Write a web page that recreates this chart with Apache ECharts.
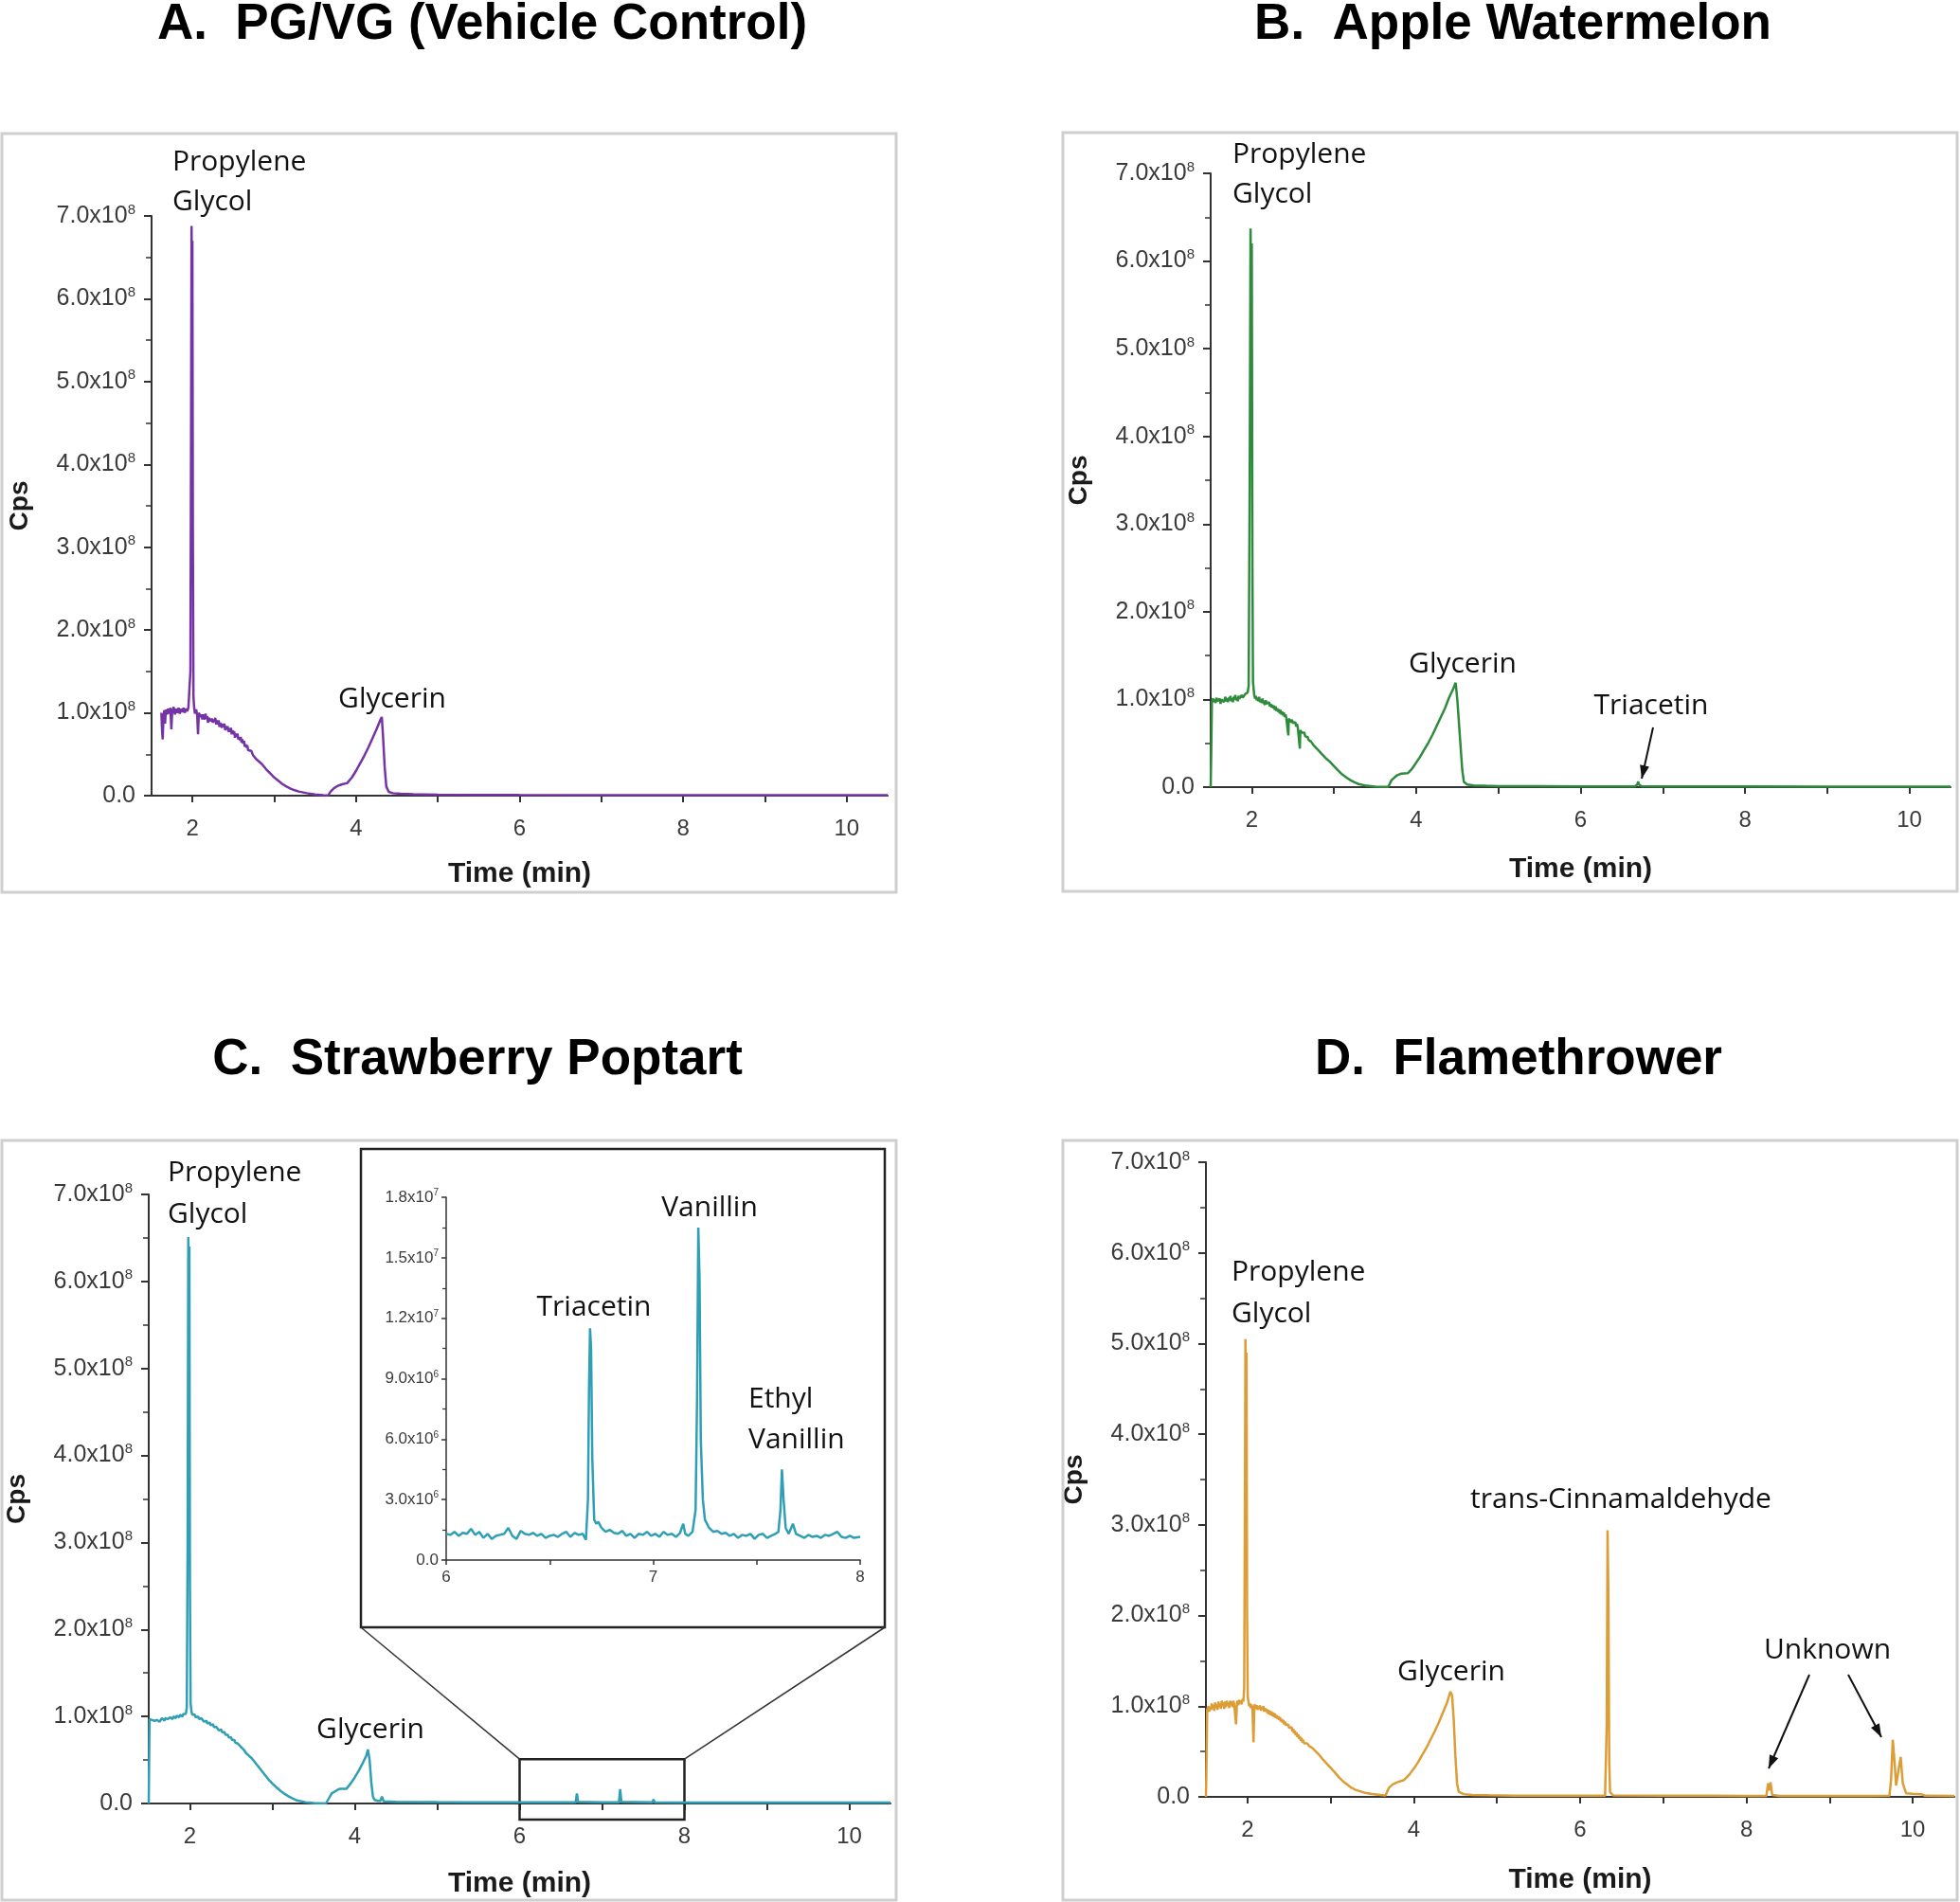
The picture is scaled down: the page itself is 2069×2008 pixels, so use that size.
<!DOCTYPE html>
<html><head><meta charset="utf-8">
<script src="https://cdn.jsdelivr.net/npm/echarts@6/dist/echarts.min.js"></script>
<style>html,body{margin:0;padding:0;background:#fff}#c{width:2069px;height:2008px}</style>
</head><body><div id="c"></div>
<script>
// ---- data: [time (min), Cps / 1e8] (inset: Cps / 1e6) ----
const panelTitles = ['A.  PG/VG (Vehicle Control)', 'B.  Apple Watermelon', 'C.  Strawberry Poptart', 'D.  Flamethrower'];
const xTickValues = [2, 3, 4, 5, 6, 7, 8, 9, 10];
const xLabelValues = [2, 4, 6, 8, 10];

const pgvg = [[1.62,1.00],[1.628,0.80],[1.636,0.68],[1.645,0.93],[1.655,1.03],[1.665,0.87],[1.675,1.04],[1.69,0.98],[1.70,1.05],[1.715,0.99],[1.73,1.06],[1.742,0.80],[1.752,1.02],[1.77,1.07],[1.785,0.98],[1.80,1.05],[1.815,1.00],[1.83,1.06],[1.845,0.99],[1.86,1.05],[1.875,1.01],[1.89,1.06],[1.905,1.00],[1.92,1.05],[1.935,1.02],[1.95,1.06],[1.965,1.05],[1.975,1.5],[1.983,4.3],[1.989,6.88],[1.994,6.1],[1.999,6.7],[2.005,3.2],[2.012,1.2],[2.02,1.07],[2.03,0.99],[2.045,1.04],[2.058,0.97],[2.068,0.74],[2.078,1.00],
[2.09,1.00],[2.10,0.95],[2.11,0.98],[2.12,0.92],[2.13,0.98],[2.14,0.95],[2.15,0.92],[2.16,0.99],[2.17,0.93],[2.18,0.96],[2.19,0.88],[2.20,0.94],[2.21,0.96],[2.22,0.90],[2.23,0.92],[2.24,0.93],[2.25,0.88],[2.26,0.92],[2.27,0.89],[2.28,0.94],[2.29,0.86],[2.30,0.91],[2.31,0.86],[2.32,0.91],[2.33,0.83],[2.34,0.88],[2.35,0.88],[2.36,0.82],[2.37,0.87],[2.38,0.83],[2.39,0.87],[2.40,0.79],[2.41,0.84],[2.42,0.80],[2.43,0.84],[2.44,0.77],[2.45,0.81],[2.46,0.77],[2.47,0.82],[2.48,0.74],[2.49,0.79],[2.50,0.74],[2.51,0.78],[2.52,0.70],[2.53,0.75],[2.54,0.71],[2.55,0.75],[2.56,0.68],[2.57,0.71],[2.58,0.67],[2.59,0.71],[2.60,0.64],[2.61,0.68],[2.62,0.63],[2.63,0.66],[2.64,0.59],[2.65,0.62],[2.66,0.58],[2.67,0.61],[2.68,0.55],[2.69,0.57],[2.70,0.54],[2.72,0.54],[2.74,0.49],[2.76,0.49],[2.78,0.44],[2.80,0.43],
[2.85,0.38],[2.90,0.32],[2.95,0.27],[3.00,0.22],[3.05,0.18],[3.10,0.14],[3.15,0.11],[3.20,0.085],[3.25,0.065],[3.30,0.05],[3.40,0.03],[3.50,0.015],[3.60,0.006],[3.66,0.004],[3.69,0.05],[3.73,0.09],[3.78,0.12],[3.84,0.14],[3.89,0.15],[3.95,0.22],[4.00,0.30],[4.05,0.39],[4.10,0.48],[4.15,0.58],[4.20,0.69],[4.25,0.80],[4.30,0.92],[4.315,0.95],[4.33,0.72],[4.35,0.35],[4.37,0.11],[4.40,0.045],[4.45,0.03],[4.55,0.022],[4.70,0.016],[5.0,0.012],[5.5,0.01],[6.0,0.008],[7.0,0.007],[8.0,0.006],[9.0,0.006],[10.0,0.005],[10.5,0.005]];

const appleWatermelon = [[1.50,0.0],[1.506,0.35],[1.515,0.98],
[1.52,0.98],[1.53,1.01],[1.54,0.97],[1.55,1.00],[1.56,0.96],[1.57,1.02],[1.58,0.98],[1.59,1.00],[1.60,0.97],[1.61,1.01],[1.62,0.95],[1.63,1.00],[1.64,0.98],[1.65,1.02],[1.66,0.97],[1.67,0.99],[1.68,1.03],[1.69,0.98],[1.70,1.01],[1.71,0.97],[1.72,1.02],[1.73,0.99],[1.74,1.04],[1.75,0.98],[1.76,1.01],[1.77,0.97],[1.78,1.03],[1.79,1.00],[1.80,1.05],[1.81,0.99],[1.82,1.02],[1.83,0.98],[1.84,1.04],[1.85,1.01],[1.86,1.03],[1.87,1.00],[1.88,1.05],[1.89,1.02],[1.90,1.04],[1.91,1.01],[1.92,1.06],[1.93,1.04],[1.94,1.07],[1.95,1.08],[1.962,1.15],
[1.975,3.5],[1.985,6.37],[1.992,5.8],[2.0,6.2],[2.008,2.5],[2.015,1.2],
[2.03,1.05],[2.04,1.01],[2.05,1.04],[2.06,0.99],[2.07,1.02],[2.08,0.98],[2.09,1.03],[2.10,0.97],[2.11,1.00],[2.12,0.96],[2.13,1.01],[2.14,0.97],[2.15,0.99],[2.16,0.94],[2.17,0.99],[2.18,0.95],[2.19,0.97],[2.20,0.93],[2.21,0.97],[2.22,0.92],[2.23,0.95],[2.24,0.91],[2.25,0.94],[2.26,0.90],[2.27,0.93],[2.28,0.88],[2.29,0.92],[2.30,0.87],[2.31,0.90],[2.32,0.86],[2.33,0.89],[2.34,0.84],[2.35,0.88],[2.36,0.83],[2.37,0.86],[2.38,0.82],[2.39,0.85],[2.40,0.80],[2.41,0.83],[2.42,0.79],[2.43,0.81],[2.44,0.77],[2.445,0.59],[2.45,0.78],[2.46,0.76],[2.47,0.79],[2.48,0.74],[2.49,0.77],[2.50,0.73],[2.51,0.75],[2.52,0.71],[2.53,0.74],[2.54,0.69],[2.55,0.72],[2.56,0.68],[2.57,0.70],[2.58,0.66],[2.585,0.44],[2.59,0.65],[2.60,0.66],[2.61,0.62],[2.62,0.64],[2.63,0.60],[2.64,0.62],[2.65,0.58],[2.66,0.59],[2.67,0.56],[2.68,0.57],[2.69,0.54],[2.70,0.54],[2.72,0.52],[2.75,0.48],
[2.80,0.43],[2.85,0.38],[2.90,0.33],[2.95,0.29],[3.00,0.24],[3.05,0.19],[3.10,0.145],[3.15,0.11],[3.20,0.08],[3.25,0.055],[3.30,0.035],[3.40,0.015],[3.50,0.005],[3.66,0.002],[3.70,0.08],[3.76,0.13],[3.82,0.155],[3.90,0.16],[3.95,0.21],[4.00,0.28],[4.05,0.35],[4.10,0.43],[4.15,0.51],[4.20,0.60],[4.25,0.70],[4.30,0.80],[4.35,0.90],[4.40,1.02],[4.45,1.12],[4.48,1.19],[4.50,1.0],[4.53,0.6],[4.56,0.2],[4.58,0.06],[4.62,0.03],[4.70,0.02],[4.85,0.015],[5.0,0.012],[5.5,0.01],[6.0,0.008],[6.66,0.008],[6.69,0.03],[6.70,0.065],[6.71,0.03],[6.74,0.01],[7.0,0.008],[8.0,0.007],[9.0,0.006],[10.0,0.006],[10.5,0.006]];

const strawberryPoptart = [[1.50,0.0],[1.505,0.5],
[1.51,0.97],[1.52,0.95],[1.53,0.98],[1.54,0.96],[1.55,0.94],[1.56,0.97],[1.57,0.95],[1.58,0.96],[1.59,0.93],[1.60,0.96],[1.61,0.95],[1.62,0.97],[1.63,0.94],[1.64,0.96],[1.65,0.95],[1.66,0.98],[1.67,0.96],[1.68,0.97],[1.69,0.95],[1.70,0.98],[1.71,0.96],[1.72,0.99],[1.73,0.97],[1.74,0.98],[1.75,0.96],[1.76,0.99],[1.77,0.98],[1.78,1.00],[1.79,0.97],[1.80,1.00],[1.81,0.99],[1.82,1.01],[1.83,0.98],[1.84,1.01],[1.85,1.00],[1.86,1.02],[1.87,0.99],[1.88,1.02],[1.89,1.01],[1.90,1.03],[1.91,1.00],[1.92,1.03],[1.93,1.02],[1.94,1.04],[1.95,1.03],
[1.962,1.1],[1.972,3.0],[1.98,6.51],[1.987,5.9],[1.993,6.4],[2.0,2.5],[2.008,1.15],
[2.02,1.05],[2.03,1.02],[2.04,1.04],[2.05,1.00],[2.06,1.02],[2.07,0.99],[2.08,1.01],[2.09,0.98],[2.10,1.00],[2.11,0.97],[2.12,0.99],[2.13,0.96],[2.14,0.98],[2.15,0.96],[2.16,0.97],[2.17,0.94],[2.18,0.96],[2.19,0.94],[2.20,0.95],[2.21,0.92],[2.22,0.94],[2.23,0.91],[2.24,0.93],[2.25,0.90],[2.26,0.92],[2.27,0.89],[2.28,0.91],[2.29,0.88],[2.30,0.90],[2.31,0.87],[2.32,0.88],[2.33,0.86],[2.34,0.87],[2.35,0.84],[2.36,0.86],[2.37,0.83],[2.38,0.85],[2.39,0.82],[2.40,0.83],[2.41,0.80],[2.42,0.82],[2.43,0.79],[2.44,0.80],[2.45,0.77],[2.46,0.79],[2.47,0.76],[2.48,0.77],[2.49,0.74],[2.50,0.76],[2.51,0.73],[2.52,0.74],[2.53,0.71],[2.54,0.73],[2.55,0.70],[2.56,0.71],[2.57,0.69],[2.58,0.69],[2.59,0.67],[2.60,0.68],[2.62,0.65],[2.64,0.63],[2.66,0.61],[2.68,0.58],[2.70,0.56],[2.72,0.545],[2.75,0.52],
[2.80,0.46],[2.85,0.40],[2.90,0.34],[2.95,0.28],[3.00,0.23],[3.05,0.185],[3.10,0.145],[3.15,0.11],[3.20,0.08],[3.25,0.055],[3.30,0.035],[3.40,0.015],[3.50,0.005],[3.65,0.0],[3.67,0.02],[3.72,0.116],[3.78,0.15],[3.82,0.17],[3.90,0.17],[3.95,0.23],[4.00,0.30],[4.05,0.38],[4.10,0.47],[4.14,0.55],[4.16,0.62],[4.18,0.50],[4.20,0.25],[4.22,0.08],[4.24,0.04],[4.28,0.03],[4.31,0.03],[4.33,0.08],[4.35,0.025],[4.50,0.02],[5.0,0.015],[5.5,0.013],[6.0,0.013],[6.68,0.013],[6.695,0.115],[6.71,0.02],[7.0,0.013],[7.205,0.013],[7.22,0.165],[7.235,0.02],[7.61,0.013],[7.625,0.045],[7.64,0.013],[8.0,0.012],[9.0,0.01],[10.0,0.01],[10.5,0.01]];

const strawberryInset = [[6.00,1.3],[6.02,1.25],[6.04,1.4],[6.06,1.2],[6.08,1.35],[6.10,1.3],[6.12,1.55],[6.14,1.25],[6.16,1.4],[6.18,1.1],[6.20,1.3],[6.22,1.05],[6.24,1.2],[6.26,1.25],[6.28,1.3],[6.30,1.6],[6.32,1.2],[6.34,1.05],[6.36,1.45],[6.38,1.3],[6.40,1.25],[6.42,1.35],[6.44,1.2],[6.46,1.3],[6.48,1.1],[6.50,1.2],[6.52,1.25],[6.54,1.15],[6.56,1.3],[6.58,1.4],[6.60,1.15],[6.62,1.35],[6.64,1.25],[6.66,1.3],[6.675,1.0],[6.685,3.0],[6.69,8.5],[6.695,11.5],[6.70,10.5],[6.706,5.0],[6.715,2.0],[6.725,1.8],[6.735,1.9],[6.75,1.6],[6.77,1.4],[6.79,1.5],[6.81,1.35],[6.83,1.3],[6.85,1.45],[6.87,1.2],[6.89,1.3],[6.91,1.1],[6.93,1.3],[6.95,1.25],[6.97,1.4],[6.99,1.2],[7.01,1.3],[7.03,1.15],[7.05,1.4],[7.07,1.25],[7.09,1.3],[7.11,1.15],[7.13,1.35],[7.145,1.8],[7.155,1.3],[7.17,1.2],[7.19,1.4],[7.205,2.5],[7.212,8.0],[7.218,16.5],[7.224,14.0],[7.23,6.0],[7.24,3.0],[7.25,2.0],[7.27,1.6],[7.29,1.4],[7.31,1.45],[7.33,1.3],[7.35,1.35],[7.37,1.2],[7.39,1.3],[7.41,1.1],[7.43,1.25],[7.45,1.2],[7.47,1.3],[7.49,1.05],[7.51,1.25],[7.53,1.3],[7.55,1.1],[7.57,1.2],[7.59,1.3],[7.605,1.4],[7.615,2.5],[7.622,4.5],[7.63,3.0],[7.64,1.6],[7.655,1.3],[7.675,1.8],[7.69,1.3],[7.71,1.2],[7.73,1.1],[7.75,1.25],[7.77,1.15],[7.79,1.2],[7.81,1.1],[7.83,1.25],[7.85,1.2],[7.87,1.3],[7.89,1.4],[7.91,1.15],[7.93,1.1],[7.95,1.2],[7.97,1.1],[8.00,1.15]];

const flamethrower = [[1.50,0.0],[1.505,0.25],[1.515,0.96],
[1.52,0.96],[1.53,1.00],[1.54,0.94],[1.55,0.99],[1.56,0.96],[1.57,1.03],[1.58,0.97],[1.59,1.01],[1.60,0.95],[1.61,1.04],[1.62,0.98],[1.63,1.02],[1.64,0.96],[1.65,1.05],[1.66,0.99],[1.67,1.03],[1.68,0.97],[1.69,1.06],[1.70,1.00],[1.71,1.04],[1.72,0.97],[1.73,1.05],[1.74,0.99],[1.75,1.06],[1.76,1.01],[1.77,1.04],[1.78,0.98],[1.79,1.06],[1.80,1.01],[1.81,1.05],[1.82,0.99],[1.83,1.06],[1.84,1.02],[1.85,1.04],[1.862,0.80],[1.872,1.02],[1.88,1.06],[1.89,1.01],[1.90,1.07],[1.91,1.03],[1.92,1.06],[1.93,1.02],[1.94,1.08],[1.95,1.05],
[1.96,1.2],[1.968,3.0],[1.975,5.05],[1.982,4.4],[1.988,4.9],[1.995,2.0],[2.003,1.1],
[2.02,1.00],[2.03,1.03],[2.04,0.98],[2.05,1.02],[2.06,0.97],[2.072,0.60],[2.082,0.99],[2.09,1.02],[2.10,0.97],[2.11,1.01],[2.12,0.96],[2.13,1.00],[2.14,0.97],[2.15,1.01],[2.16,0.95],[2.17,0.99],[2.18,0.96],[2.19,1.00],[2.20,0.94],[2.21,0.98],[2.22,0.94],[2.23,0.97],[2.24,0.92],[2.25,0.96],[2.26,0.91],[2.27,0.95],[2.28,0.90],[2.29,0.94],[2.30,0.89],[2.31,0.93],[2.32,0.88],[2.33,0.92],[2.34,0.87],[2.35,0.90],[2.36,0.86],[2.37,0.89],[2.38,0.85],[2.39,0.88],[2.40,0.83],[2.41,0.86],[2.42,0.82],[2.43,0.85],[2.44,0.80],[2.45,0.83],[2.46,0.79],[2.47,0.81],[2.48,0.77],[2.49,0.80],[2.50,0.76],[2.51,0.78],[2.52,0.74],[2.53,0.77],[2.54,0.72],[2.55,0.75],[2.56,0.70],[2.57,0.73],[2.58,0.68],[2.59,0.71],[2.60,0.66],[2.61,0.69],[2.62,0.64],[2.63,0.67],[2.64,0.62],[2.65,0.65],[2.66,0.60],[2.67,0.63],[2.68,0.59],[2.69,0.61],[2.70,0.58],[2.72,0.59],[2.74,0.56],[2.76,0.565],[2.78,0.54],[2.80,0.53],
[2.85,0.475],[2.90,0.42],[2.95,0.37],[3.00,0.32],[3.05,0.27],[3.10,0.215],[3.15,0.17],[3.20,0.135],[3.25,0.10],[3.30,0.077],[3.40,0.048],[3.50,0.031],[3.60,0.02],[3.66,0.015],[3.68,0.02],[3.70,0.10],[3.75,0.14],[3.80,0.16],[3.88,0.185],[3.95,0.25],[4.00,0.31],[4.05,0.38],[4.10,0.46],[4.15,0.54],[4.20,0.63],[4.25,0.72],[4.30,0.82],[4.35,0.93],[4.40,1.04],[4.44,1.16],[4.46,1.12],[4.48,0.85],[4.50,0.45],[4.52,0.15],[4.54,0.056],[4.60,0.03],[4.70,0.022],[4.90,0.018],[5.20,0.014],[5.60,0.012],[6.0,0.012],[6.30,0.012],[6.32,0.8],[6.33,2.94],[6.34,2.2],[6.35,0.4],[6.36,0.05],[6.40,0.015],[7.0,0.012],[7.6,0.012],[8.0,0.01],[8.24,0.01],[8.26,0.15],[8.275,0.07],[8.29,0.16],[8.31,0.02],[8.40,0.01],[9.0,0.01],[9.5,0.01],[9.72,0.012],[9.74,0.2],[9.76,0.63],[9.78,0.40],[9.80,0.125],[9.83,0.30],[9.855,0.44],[9.88,0.15],[9.92,0.04],[10.0,0.035],[10.1,0.03],[10.15,0.012],[10.5,0.01]];

const seriesColors = ['#7534a6', '#2e8b3c', '#2f9fb5', '#dc9d36'];

// ---- layout ----
const grids = [
  {left:160, top:228, width:777, height:612},   // A
  {left:1278, top:183, width:781, height:648},  // B
  {left:157, top:1261, width:783, height:643},  // C
  {left:1273, top:1227, width:790, height:670}, // D
  {left:471, top:1264, width:437, height:383}   // C inset
];
const AX = '#333';
const LBL = '#3a3a3a';
const xNameGaps = [68, 72, 70, 73];

function mainX(i){
  return {gridIndex:i, type:'value', min:1.5, max:10.5,
    axisLine:{show:true, onZero:false, lineStyle:{color:AX, width:2}},
    axisTick:{show:true, customValues:xTickValues, length:7, lineStyle:{color:AX, width:2}},
    axisLabel:{customValues:xLabelValues, fontSize:24, color:LBL, margin:23, fontFamily:'Liberation Sans, Arial'},
    splitLine:{show:false},
    name:'Time (min)', nameLocation:'middle', nameGap:xNameGaps[i],
    nameTextStyle:{fontSize:30, fontWeight:'bold', color:'#1a1a1a', fontFamily:'Liberation Sans, Arial'}};
}
function mainY(i){
  return {gridIndex:i, type:'value', min:0, max:7, interval:1,
    axisLine:{show:true, onZero:false, lineStyle:{color:AX, width:2}},
    axisTick:{show:true, length:8, lineStyle:{color:AX, width:2}},
    minorTick:{show:true, splitNumber:2, length:6, lineStyle:{color:AX, width:1.5}},
    splitLine:{show:false},
    axisLabel:{margin:17, color:LBL,
      formatter: v => v === 0 ? '{b|0.0}' : '{b|' + v.toFixed(1) + 'x10}{s|8}',
      rich:{b:{fontSize:25, color:LBL, fontFamily:'Liberation Sans, Arial', lineHeight:28},
            s:{fontSize:15, color:LBL, fontFamily:'Liberation Sans, Arial', verticalAlign:'top', lineHeight:16}}},
    name:'Cps', nameLocation:'middle', nameRotate:90, nameGap:125,
    nameTextStyle:{fontSize:28, fontWeight:'bold', color:'#1a1a1a', fontFamily:'Liberation Sans, Arial'}};
}
const xAxes = [mainX(0), mainX(1), mainX(2), mainX(3),
  {gridIndex:4, type:'value', min:6, max:8, interval:1,
    axisLine:{show:true, onZero:false, lineStyle:{color:AX, width:1.5}},
    axisTick:{show:true, length:5, lineStyle:{color:AX, width:1.5}},
    minorTick:{show:true, splitNumber:2, length:5, lineStyle:{color:AX, width:1.5}},
    axisLabel:{fontSize:17, color:LBL, margin:10, fontFamily:'Liberation Sans, Arial'},
    splitLine:{show:false}}];
const yAxes = [mainY(0), mainY(1), mainY(2), mainY(3),
  {gridIndex:4, type:'value', min:0, max:18, interval:3,
    axisLine:{show:true, onZero:false, lineStyle:{color:AX, width:1.5}},
    axisTick:{show:true, length:5, lineStyle:{color:AX, width:1.5}},
    minorTick:{show:true, splitNumber:2, length:4, lineStyle:{color:AX, width:1.2}},
    splitLine:{show:false},
    axisLabel:{margin:8, color:LBL,
      formatter: v => v === 0 ? '{b|0.0}' : (v < 10 ? '{b|' + v.toFixed(1) + 'x10}{s|6}' : '{b|' + (v/10).toFixed(1) + 'x10}{s|7}'),
      rich:{b:{fontSize:17, color:LBL, fontFamily:'Liberation Sans, Arial', lineHeight:19},
            s:{fontSize:10, color:LBL, fontFamily:'Liberation Sans, Arial', verticalAlign:'top', lineHeight:10}}}}];

const dataSets = [pgvg, appleWatermelon, strawberryPoptart, flamethrower, strawberryInset];
const colorIdx = [0, 1, 2, 3, 2];
const series = dataSets.map((d, i) => ({
  type:'line', xAxisIndex:i, yAxisIndex:i, data:d, showSymbol:false, symbol:'none',
  lineStyle:{width:2.5, color:seriesColors[colorIdx[i]]}, itemStyle:{color:seriesColors[colorIdx[i]]},
  animation:false, clip:true, z:3, silent:true
}));

const chart = echarts.init(document.getElementById('c'));
chart.setOption({backgroundColor:'#fff', animation:false, grid:grids, xAxis:xAxes, yAxis:yAxes, series:series});

// ---- annotations ----
const G = [];
const LF = 'Open Sans, Noto Sans, sans-serif';
function box(x, y, w, h, stroke, lw){ G.push({type:'rect', shape:{x, y, width:w, height:h}, style:{fill:'none', stroke, lineWidth:lw}, z:1}); }
function txt(x, y, t, o){ o = o || {};
  G.push({type:'text', x, y, z:5, style:{text:t, fill:o.fill || '#111', fontSize:o.size || 30, fontFamily:o.family || LF,
    fontWeight:o.weight || 'normal', align:o.align || 'left', verticalAlign:o.va || 'middle', lineHeight:o.lh || 43}}); }
function arrow(x1, y1, x2, y2){
  G.push({type:'line', z:5, shape:{x1, y1, x2, y2}, style:{stroke:'#111', lineWidth:2}});
  const a = Math.atan2(y2 - y1, x2 - x1), L = 14, W = 5;
  const bx = x2 - L*Math.cos(a), by = y2 - L*Math.sin(a);
  G.push({type:'polygon', z:5, shape:{points:[[x2, y2], [bx + W*Math.sin(a), by - W*Math.cos(a)], [bx - W*Math.sin(a), by + W*Math.cos(a)]]}, style:{fill:'#111'}});
}
// panel frames
box(2, 141, 944, 801, '#cfcfcf', 3);
box(1122, 140, 944, 801, '#cfcfcf', 3);
box(2, 1204, 944, 802, '#cfcfcf', 3);
box(1122, 1204, 944, 802, '#cfcfcf', 3);
// titles
const TT = {size:53, weight:'bold', family:'Liberation Sans, Arial', align:'center', fill:'#000'};
txt(509, 26, panelTitles[0], TT);
txt(1597, 26, panelTitles[1], TT);
txt(504, 1119, panelTitles[2], TT);
txt(1603, 1119, panelTitles[3], TT);
// peak labels
txt(182, 150, 'Propylene\nGlycol', {va:'top', lh:42});
txt(414, 738, 'Glycerin', {align:'center'});
txt(1301, 142, 'Propylene\nGlycol', {va:'top', lh:42});
txt(1544, 701, 'Glycerin', {align:'center'});
txt(1743, 745, 'Triacetin', {align:'center'});
arrow(1745, 768, 1733, 822);
txt(177, 1216, 'Propylene\nGlycol', {va:'top', lh:44});
txt(391, 1826, 'Glycerin', {align:'center'});
txt(627, 1380, 'Triacetin', {align:'center'});
txt(749, 1275, 'Vanillin', {align:'center'});
txt(790, 1456, 'Ethyl\nVanillin', {va:'top', lh:43});
txt(1300, 1321, 'Propylene\nGlycol', {va:'top', lh:44});
txt(1532, 1765, 'Glycerin', {align:'center'});
txt(1711, 1583, 'trans-Cinnamaldehyde', {align:'center'});
txt(1929, 1742, 'Unknown', {align:'center'});
arrow(1910, 1768, 1867, 1867);
arrow(1951, 1768, 1986, 1834);
// inset frame, zoom window and connectors (zoom window from panel C axes)
box(381, 1213, 553, 505, '#222', 2.5);
const p1 = chart.convertToPixel({xAxisIndex:2, yAxisIndex:2}, [6, 0.51]);
const p2 = chart.convertToPixel({xAxisIndex:2, yAxisIndex:2}, [8, -0.185]);
box(p1[0], p1[1], p2[0] - p1[0], p2[1] - p1[1], '#222', 2.5);
G.push({type:'line', z:1, shape:{x1:p1[0], y1:p1[1], x2:381, y2:1718}, style:{stroke:'#333', lineWidth:1.5}});
G.push({type:'line', z:1, shape:{x1:p2[0], y1:p1[1], x2:934, y2:1718}, style:{stroke:'#333', lineWidth:1.5}});
chart.setOption({graphic:{elements:G}});
</script></body></html>
